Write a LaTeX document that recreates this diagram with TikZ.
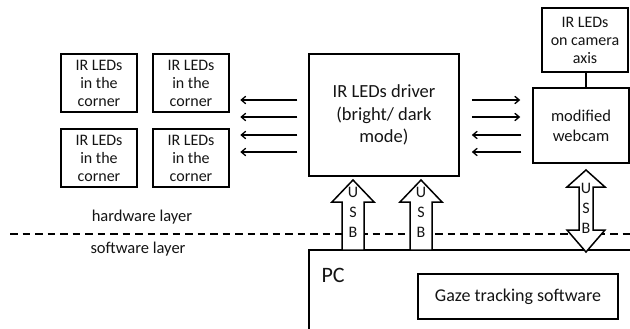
\documentclass[tikz,border=0pt]{standalone}
\usepackage{fontspec}
\setmainfont{Carlito}
\usetikzlibrary{arrows.meta,calc}
\definecolor{ink}{HTML}{141414}
\begin{document}
\begin{tikzpicture}[x=1pt,y=-1pt,
  box/.style={draw=black,line width=1.5pt,inner sep=0pt,align=center,text=ink},
  small/.style={font=\fontsize{16}{18}\selectfont},
  arr/.style={line width=1.3pt,-{Straight Barb[length=4.5pt,width=7.5pt,line width=1.3pt]}},
  hollow/.style={draw=black,line width=1.5pt,fill=white,line join=miter},
  usb/.style={inner sep=0pt,align=center,text=ink,font=\fontsize{16}{20}\selectfont}]
\useasboundingbox (0,0) rectangle (630,329);
% corner boxes
\node[box,small,minimum width=76pt,minimum height=58pt] (c1) at (99,83) {IR LEDs\\in the\\corner};
\node[box,small,minimum width=76pt,minimum height=58pt] (c2) at (191,83) {IR LEDs\\in the\\corner};
\node[box,small,minimum width=76pt,minimum height=58pt] (c3) at (99,158) {IR LEDs\\in the\\corner};
\node[box,small,minimum width=76pt,minimum height=58pt] (c4) at (191,158) {IR LEDs\\in the\\corner};
% driver
\node[box,font=\fontsize{18.5}{22.5}\selectfont,minimum width=150pt,minimum height=122pt] (drv) at (384,115) {IR LEDs driver\\(bright/ dark\\mode)};
% camera
\node[box,small,minimum width=86pt,minimum height=64pt] (cam) at (585,40) {IR LEDs\\on camera\\axis};
\node[box,font=\fontsize{16.5}{20}\selectfont,minimum width=96pt,minimum height=75pt] (web) at (581,125.5) {modified\\webcam};
\draw[line width=1.2pt] (cam.south -| 586,0) -- (web.north -| 586,0);
% thin arrows left
\foreach \y in {100,117,135,152}{
  \draw[arr] ($(drv.west|-0,\y)+(-11,0)$) -- ($(drv.west|-0,\y)+(-68,0)$);
}
% thin arrows right
\foreach \y in {100,117}{
  \draw[arr] ($(drv.east|-0,\y)+(12,0)$) -- ($(web.west|-0,\y)+(-12,0)$);
}
\foreach \y in {135,152}{
  \draw[arr] ($(web.west|-0,\y)+(-11,0)$) -- ($(drv.east|-0,\y)+(12,0)$);
}
% layer line
\draw[line width=1.6pt,dash pattern=on 7.5pt off 5pt] (10,234) -- (630,234);
\node[text=ink,font=\fontsize{16.5}{18}\selectfont] (hw) at (142,217) {hardware layer};
\node[text=ink,font=\fontsize{16.5}{18}\selectfont] (sw) at (138,249) {software layer};
% PC
\draw[line width=1.5pt] (309,335) -- (309,250) -- (635,250);
\node[text=ink,font=\fontsize{22}{24}\selectfont,anchor=west] (pc) at (318,275) {PC};
\node[box,font=\fontsize{18}{20}\selectfont,minimum width=200pt,minimum height=45pt] (gaze) at (518,296.5) {Gaze tracking software};
% USB arrows
\foreach \cx in {353,421}{
  \draw[hollow] (\cx,180) -- (\cx+21,202) -- (\cx+11,202) -- (\cx+11,250) -- (\cx-11,250) -- (\cx-11,202) -- (\cx-21,202) -- cycle;
}
\node[usb] (u1) at (353,212) {U\\S\\B};
\node[usb] (u2) at (421,212) {U\\S\\B};
\draw[hollow] (586,170) -- (605,187) -- (593,187) -- (593,230) -- (605,230) -- (586,252) -- (567,230) -- (579,230) -- (579,187) -- (567,187) -- cycle;
\node[usb] (u3) at (586,208) {U\\S\\B};
\end{tikzpicture}
\end{document}
